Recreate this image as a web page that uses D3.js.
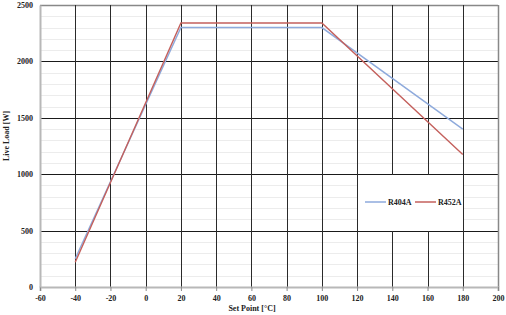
<!DOCTYPE html>
<html>
<head>
<meta charset="utf-8">
<script src="https://cdn.jsdelivr.net/npm/d3@7"></script>
<style>
  body { margin: 0; background: #fff; }
  text { font-family: "Liberation Serif", "DejaVu Serif", serif; }
</style>
</head>
<body>
<svg id="chart" width="506" height="315"></svg>
<script>
// data
var setPoints = [-40, 20, 100, 180];
var r404a = [250, 2300, 2300, 1400];
var r452a = [220, 2340, 2340, 1175];
var seriesNames = ["R404A", "R452A"];
var seriesColors = ["#8eaadc", "#c4605c"];
var xTicks = [-60, -40, -20, 0, 20, 40, 60, 80, 100, 120, 140, 160, 180, 200];
var yTicks = [0, 500, 1000, 1500, 2000, 2500];
var yMinor = d3.range(0, 2501, 100);

(function () {
var svg = d3.select("#chart");
var pLeft = 40, pRight = 498, pTop = 5, pBottom = 287;

var x = d3.scaleLinear().domain([-60, 200]).range([pLeft, pRight]);
var y = d3.scaleLinear().domain([0, 2500]).range([pBottom, pTop]);

// minor gridlines
svg.append("g").selectAll("line").data(yMinor).enter().append("line")
    .attr("x1", pLeft).attr("x2", pRight)
    .attr("y1", function (d) { return Math.round(y(d)) + 0.5; })
    .attr("y2", function (d) { return Math.round(y(d)) + 0.5; })
    .attr("stroke", "#ececec");

// major gridlines
svg.append("g").selectAll("line").data(yTicks.slice(1)).enter().append("line")
    .attr("x1", pLeft).attr("x2", pRight)
    .attr("y1", function (d) { return Math.round(y(d)) + 0.5; })
    .attr("y2", function (d) { return Math.round(y(d)) + 0.5; })
    .attr("stroke", function (d) { return d == 2500 ? "#888" : "#1a1a1a"; })
    .attr("stroke-width", function (d) { return d == 2500 ? 1.5 : 1; });

svg.append("g").selectAll("line").data(xTicks.slice(1)).enter().append("line")
    .attr("y1", pTop).attr("y2", pBottom)
    .attr("x1", function (d) { return Math.round(x(d)) + 0.5; })
    .attr("x2", function (d) { return Math.round(x(d)) + 0.5; })
    .attr("stroke", function (d) { return d == 200 ? "#888" : "#2a2a2a"; })
    .attr("stroke-width", function (d) { return d == 200 ? 1.5 : 1; });

// axes
var xAxis = d3.axisBottom(x).tickValues(xTicks).tickSize(4).tickPadding(4)
    .tickFormat(function (d) { return String(d); });
var gx = svg.append("g").attr("transform", "translate(0," + pBottom + ")").call(xAxis);
var yAxis = d3.axisLeft(y).tickValues(yTicks).tickSize(0).tickPadding(7)
    .tickFormat(function (d) { return String(d); });
var gy = svg.append("g").attr("transform", "translate(" + pLeft + ",0)").call(yAxis);
[gx, gy].forEach(function (g) {
    g.select(".domain").attr("stroke", "#b8b8b8").attr("stroke-width", 2);
    g.selectAll(".tick line").attr("stroke", "#888");
    g.selectAll("text").attr("font-family", "'Liberation Serif', serif")
        .attr("font-size", 8).attr("font-weight", "bold").attr("fill", "#222");
});

// lines
var series = [r404a, r452a];
var line = d3.line()
    .x(function (d, i) { return x(setPoints[i]); })
    .y(function (d) { return y(d); });
series.forEach(function (s, k) {
    svg.append("path").datum(s)
        .attr("fill", "none")
        .attr("stroke", seriesColors[k])
        .attr("stroke-width", 1.4)
        .attr("d", line);
});

// legend box
var lg = svg.append("g");
lg.append("rect")
    .attr("x", Math.round(x(120)) + 1).attr("y", Math.round(y(1000)) + 1)
    .attr("width", Math.round(x(180)) - Math.round(x(120)) - 1)
    .attr("height", Math.round(y(500)) - Math.round(y(1000)) - 1)
    .attr("fill", "#fff");
var ly = 202;
var lx = [365, 415];
seriesNames.forEach(function (n, k) {
    lg.append("line").attr("x1", lx[k]).attr("x2", lx[k] + 21)
        .attr("y1", ly).attr("y2", ly)
        .attr("stroke", seriesColors[k]).attr("stroke-width", 1.5);
    lg.append("text").attr("x", lx[k] + 23).attr("y", ly + 3)
        .attr("font-size", 8).attr("font-weight", "bold").attr("fill", "#222")
        .text(n);
});

// axis titles
svg.append("text").attr("x", (pLeft + pRight) / 2 - 17).attr("y", 311)
    .attr("text-anchor", "middle").attr("font-size", 8).attr("font-weight", "bold")
    .attr("fill", "#222").text("Set Point [°C]");
svg.append("text")
    .attr("transform", "translate(9," + 136 + ") rotate(-90)")
    .attr("text-anchor", "middle").attr("font-size", 8).attr("font-weight", "bold")
    .attr("fill", "#222").text("Live Load [W]");
})();
</script>
</body>
</html>
